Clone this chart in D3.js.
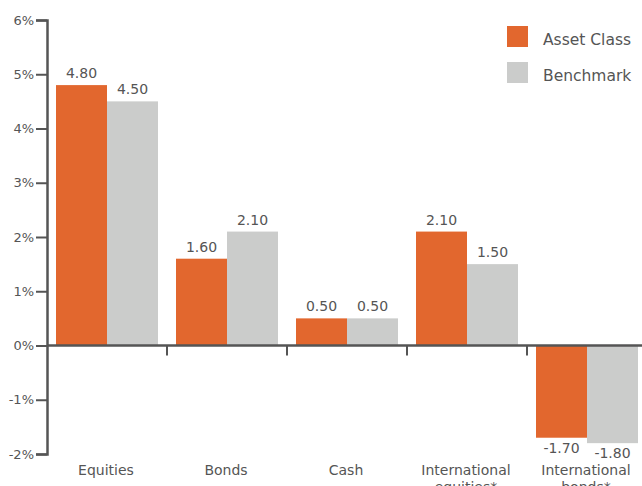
<!DOCTYPE html>
<html><head><meta charset="utf-8">
<script src="https://cdn.jsdelivr.net/npm/d3@7"></script>
<style>
html,body{margin:0;padding:0;background:#fff;}
text{font-family:"DejaVu Sans",sans-serif;fill:#555;}
</style></head>
<body>
<svg id="c" width="642" height="486"></svg>
<script>
const categories = [["Equities"], ["Bonds"], ["Cash"], ["International", "equities*"], ["International", "bonds*"]];
const seriesNames = ["Asset Class", "Benchmark"];
const assetClass = [4.80, 1.60, 0.50, 2.10, -1.70];
const benchmark = [4.50, 2.10, 0.50, 1.50, -1.80];
const yTicks = [-2, -1, 0, 1, 2, 3, 4, 5, 6];
const colors = ["#E2672E", "#CBCCCB"];

const svg = d3.select("#c");
const x = d3.scaleBand().domain(d3.range(categories.length)).range([47, 647]).padding(0);
const xi = d3.scaleBand().domain([0, 1]).range([9, 111]).padding(0);
const y = d3.scaleLinear().domain([-2, 6]).range([454, 20]);
const series = [assetClass, benchmark];

// bars
series.forEach((vals, si) => {
  svg.append("g").selectAll("rect").data(vals).join("rect")
    .attr("x", (d, i) => x(i) + xi(si))
    .attr("width", xi.bandwidth())
    .attr("y", d => d >= 0 ? y(d) : y(0))
    .attr("height", d => Math.abs(y(d) - y(0)))
    .attr("fill", colors[si]);
  svg.append("g").selectAll("text").data(vals).join("text")
    .attr("x", (d, i) => x(i) + xi(si) + xi.bandwidth() / 2)
    .attr("y", d => d >= 0 ? y(d) - 7 : y(d) + 15)
    .attr("text-anchor", "middle")
    .attr("font-size", 14)
    .text(d => d.toFixed(2));
});

// y axis
const yAxis = d3.axisLeft(y).tickValues(yTicks).tickFormat(d => d + "%").tickSize(11).tickPadding(2);
const gy = svg.append("g").attr("transform", "translate(47,0)").call(yAxis);
gy.select(".domain").attr("stroke", "#555").attr("stroke-width", 2.5);
gy.selectAll(".tick line").attr("stroke", "#555").attr("stroke-width", 2);
gy.selectAll(".tick text").attr("font-size", 13).attr("font-family", "DejaVu Sans").attr("fill", "#555");

// zero line with category ticks
const boundaries = d3.range(1, categories.length).map(i => x(i));
svg.append("line").attr("x1", 47).attr("x2", 642).attr("y1", y(0)).attr("y2", y(0))
  .attr("stroke", "#555").attr("stroke-width", 2.5);
svg.append("g").selectAll("line").data(boundaries).join("line")
  .attr("x1", d => d).attr("x2", d => d).attr("y1", y(0)).attr("y2", y(0) + 10)
  .attr("stroke", "#555").attr("stroke-width", 2);

// category labels
const cl = svg.append("g").selectAll("text").data(categories).join("text")
  .attr("x", (d, i) => x(i) + x.bandwidth() / 2 - 1)
  .attr("y", 475)
  .attr("text-anchor", "middle")
  .attr("font-size", 14);
cl.each(function(d) {
  const t = d3.select(this);
  d.forEach((line, k) => {
    t.append("tspan").attr("x", t.attr("x")).attr("dy", k === 0 ? 0 : 17).text(line);
  });
});

// legend
const lg = svg.append("g");
seriesNames.forEach((n, i) => {
  lg.append("rect").attr("x", 507).attr("y", 26 + i * 36).attr("width", 21).attr("height", 21).attr("fill", colors[i]);
  lg.append("text").attr("x", 543).attr("y", 45 + i * 36).attr("font-size", 15.5).text(n);
});
</script>
</body></html>
